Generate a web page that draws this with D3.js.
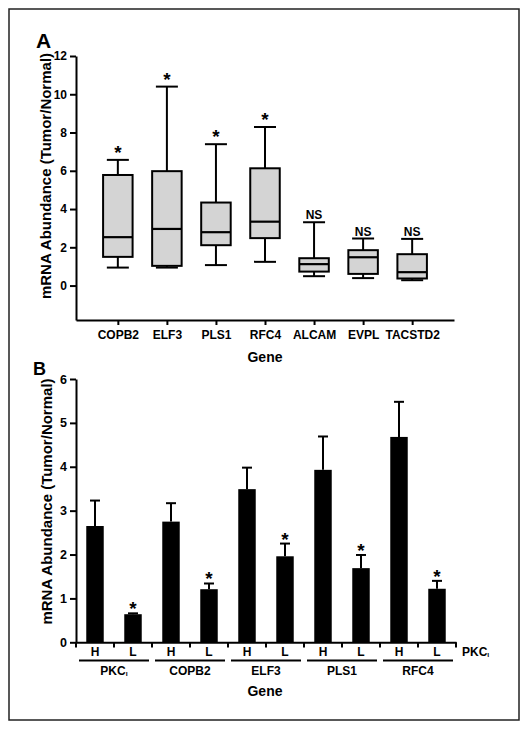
<!DOCTYPE html>
<html><head><meta charset="utf-8">
<script src="https://cdn.jsdelivr.net/npm/d3@7"></script>
<style>
body{margin:0;background:#fff;}
svg{display:block;font-family:"Liberation Sans",Arial,sans-serif;font-weight:bold;}
</style></head><body>
<svg id="c" width="529" height="731"></svg>
<script>
// ---- Panel A data (box plots) ----
const genesA = ["COPB2","ELF3","PLS1","RFC4","ALCAM","EVPL","TACSTD2"];
const whiskerLow = [0.94, 0.94, 1.07, 1.24, 0.49, 0.39, 0.28];
const q1 = [1.50, 1.03, 2.11, 2.48, 0.73, 0.61, 0.37];
const median = [2.53, 2.96, 2.79, 3.34, 1.12, 1.48, 0.70];
const q3 = [5.78, 5.98, 4.34, 6.13, 1.43, 1.85, 1.64];
const whiskerHigh = [6.57, 10.40, 7.39, 8.29, 3.31, 2.46, 2.44];
const sigA = ["*","*","*","*","NS","NS","NS"];
const yTicksA = [0,2,4,6,8,10,12];

// ---- Panel B data (bar chart) ----
const groupsB = ["PKCι","COPB2","ELF3","PLS1","RFC4"];
const levels = ["H","L"];
const meanH = [2.65, 2.75, 3.49, 3.93, 4.68];
const meanL = [0.64, 1.21, 1.96, 1.69, 1.22];
const errTopH = [3.23, 3.17, 3.98, 4.69, 5.48];
const errTopL = [0.66, 1.34, 2.25, 1.99, 1.40];
const sigL = ["*","*","*","*","*"];
const yTicksB = [0,1,2,3,4,5,6];

const svg = d3.select("#c");
svg.append("rect").attr("x",9).attr("y",9).attr("width",510).attr("height",711)
  .attr("fill","none").attr("stroke","#222").attr("stroke-width",1.5);

// ============ Panel A ============
const xA = d3.scalePoint().domain(genesA).range([76,454]).padding(0.853);
const yA = d3.scaleLinear().domain([-1.8,12]).range([320,56]);
const boxW = 29.5, capW = 22;

const gA = svg.append("g");
const yAxA = gA.append("g").attr("transform","translate(76,0)")
  .call(d3.axisLeft(yA).tickValues(yTicksA).tickFormat(d3.format("d")).tickSize(6).tickSizeOuter(0).tickPadding(3));
const xAxA = gA.append("g").attr("transform","translate(0,320)")
  .call(d3.axisBottom(xA).tickSize(5).tickSizeOuter(0).tickPadding(5));
[yAxA,xAxA].forEach(a=>{
  a.selectAll("path,line").attr("stroke","#000").attr("stroke-width",2);
  a.selectAll("text").attr("fill","#000").attr("font-size",12).attr("font-weight","bold");
});

const boxes = gA.selectAll("g.box").data(genesA).join("g").attr("class","box");
boxes.each(function(g,i){
  const s = d3.select(this), cx = xA(g);
  const line = (x1,y1,x2,y2,w)=>s.append("line").attr("x1",x1).attr("y1",y1).attr("x2",x2).attr("y2",y2)
     .attr("stroke","#000").attr("stroke-width",w||2);
  line(cx,yA(whiskerHigh[i]),cx,yA(q3[i]));
  line(cx,yA(q1[i]),cx,yA(whiskerLow[i]));
  line(cx-capW/2,yA(whiskerHigh[i]),cx+capW/2,yA(whiskerHigh[i]));
  line(cx-capW/2,yA(whiskerLow[i]),cx+capW/2,yA(whiskerLow[i]));
  s.append("rect").attr("x",cx-boxW/2).attr("y",yA(q3[i])).attr("width",boxW)
   .attr("height",yA(q1[i])-yA(q3[i])).attr("fill","#d4d4d4").attr("stroke","#000").attr("stroke-width",2);
  line(cx-boxW/2,yA(median[i]),cx+boxW/2,yA(median[i]),2.2);
  const t = s.append("text").attr("x",cx).attr("text-anchor","middle").attr("fill","#000").text(sigA[i]);
  if(sigA[i]==="*") t.attr("y",yA(whiskerHigh[i])-1).attr("font-size",19);
  else t.attr("y",yA(whiskerHigh[i])-3).attr("font-size",12);
});

gA.append("text").attr("x",36).attr("y",48).attr("font-size",21).text("A");
gA.append("text").attr("transform","translate(50.5,176) rotate(-90)").attr("text-anchor","middle")
  .attr("font-size",15).text("mRNA Abundance (Tumor/Normal)");
gA.append("text").attr("x",265).attr("y",362).attr("text-anchor","middle").attr("font-size",14).text("Gene");

// ============ Panel B ============
const barKeys = [];
groupsB.forEach((g,i)=>levels.forEach(l=>barKeys.push({g,i,l})));
const xB = d3.scaleBand().domain(barKeys.map(d=>d.g+"_"+d.l)).range([76,456]).paddingInner(0.54).paddingOuter(0.27);
const yB = d3.scaleLinear().domain([0,6]).range([642.3,379]);
const gB = svg.append("g");
const step = xB.step(), gap = step - xB.bandwidth();

const bars = barKeys.map(d=>({key:d.g+"_"+d.l, l:d.l, i:d.i,
  v: d.l==="H"?meanH[d.i]:meanL[d.i], e: d.l==="H"?errTopH[d.i]:errTopL[d.i],
  s: d.l==="L"?sigL[d.i]:""}));
gB.selectAll("line.err").data(bars).join("line").attr("class","err")
  .attr("x1",d=>xB(d.key)+xB.bandwidth()/2).attr("x2",d=>xB(d.key)+xB.bandwidth()/2)
  .attr("y1",d=>yB(d.v)).attr("y2",d=>yB(d.e)).attr("stroke","#000").attr("stroke-width",2);
gB.selectAll("line.cap").data(bars).join("line").attr("class","cap")
  .attr("x1",d=>xB(d.key)+xB.bandwidth()/2-5).attr("x2",d=>xB(d.key)+xB.bandwidth()/2+5)
  .attr("y1",d=>yB(d.e)).attr("y2",d=>yB(d.e)).attr("stroke","#000").attr("stroke-width",2);
gB.selectAll("rect.bar").data(bars).join("rect").attr("class","bar")
  .attr("x",d=>xB(d.key)).attr("width",xB.bandwidth())
  .attr("y",d=>yB(d.v)).attr("height",d=>yB(0)-yB(d.v)).attr("fill","#000");
gB.selectAll("text.sig").data(bars.filter(d=>d.s)).join("text").attr("class","sig")
  .attr("x",d=>xB(d.key)+xB.bandwidth()/2).attr("y",d=>yB(d.e)+2).attr("text-anchor","middle")
  .attr("font-size",19).text(d=>d.s);

const yAxB = gB.append("g").attr("transform","translate(76,0)")
  .call(d3.axisLeft(yB).tickValues(yTicksB).tickFormat(d3.format("d")).tickSize(6).tickSizeOuter(0).tickPadding(3));
const xAxB = gB.append("g").attr("transform","translate(0,642.3)")
  .call(d3.axisBottom(xB).tickValues([]).tickSizeOuter(0));
[yAxB,xAxB].forEach(a=>{
  a.selectAll("path,line").attr("stroke","#000").attr("stroke-width",2);
  a.selectAll("text").attr("fill","#000").attr("font-size",12.5).attr("font-weight","bold");
});
const bounds = bars.map(d=>xB(d.key)-gap/2).concat([xB(bars[bars.length-1].key)+xB.bandwidth()+gap/2]);
gB.selectAll("line.bt").data(bounds).join("line").attr("class","bt")
  .attr("x1",d=>d).attr("x2",d=>d).attr("y1",642.3).attr("y2",647.5).attr("stroke","#000").attr("stroke-width",2);
gB.selectAll("text.lv").data(bars).join("text").attr("class","lv")
  .attr("x",d=>xB(d.key)+xB.bandwidth()/2).attr("y",656).attr("text-anchor","middle")
  .attr("font-size",12).text(d=>d.l);
groupsB.forEach((g,i)=>{
  const cx = (xB(g+"_H")+xB(g+"_L")+xB.bandwidth())/2;
  gB.append("line").attr("x1",cx-35).attr("x2",cx+35).attr("y1",660.5).attr("y2",660.5)
    .attr("stroke","#000").attr("stroke-width",2);
  const t = gB.append("text").attr("x",cx).attr("y",675).attr("text-anchor","middle").attr("font-size",12);
  if(g==="PKCι"){ t.append("tspan").text("PKC"); t.append("tspan").attr("font-size",7).attr("dy",1).text("ι"); }
  else t.text(g);
});
const pk = gB.append("text").attr("x",462).attr("y",656).attr("font-size",12);
pk.append("tspan").text("PKC"); pk.append("tspan").attr("font-size",7).attr("dy",1).text("ι");

gB.append("text").attr("x",33).attr("y",375).attr("font-size",18).text("B");
gB.append("text").attr("transform","translate(51.5,501.5) rotate(-90)").attr("text-anchor","middle")
  .attr("font-size",15).text("mRNA Abundance (Tumor/Normal)");
gB.append("text").attr("x",265).attr("y",696).attr("text-anchor","middle").attr("font-size",14).text("Gene");
</script></body></html>
